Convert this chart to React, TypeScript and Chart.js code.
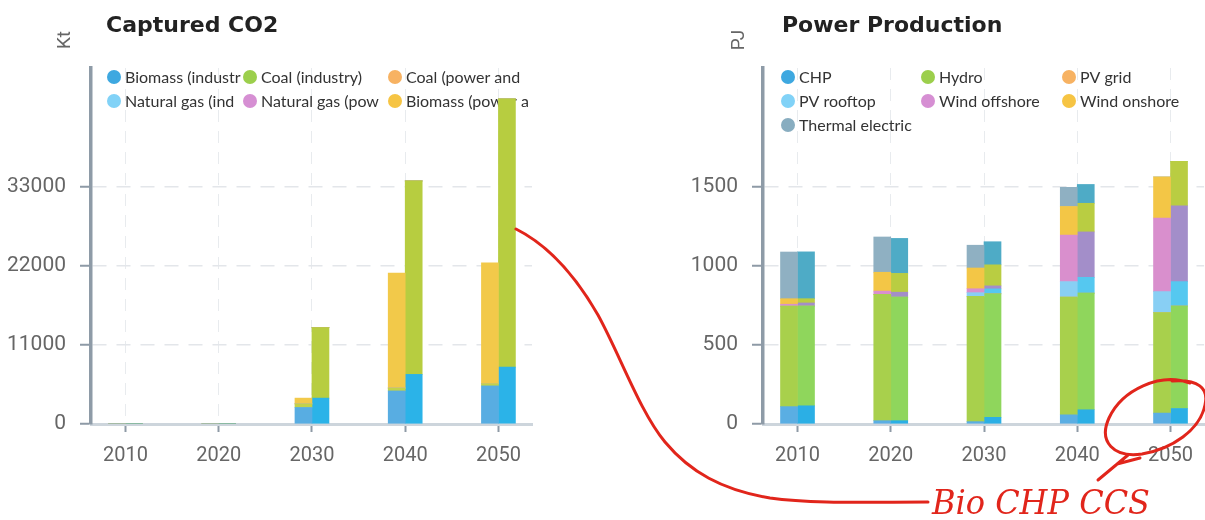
import React, { useEffect, useRef } from 'react';
import { Chart, registerables } from 'chart.js';

Chart.register(...registerables);

// ---------- shared categories ----------
const YEARS = [2010, 2020, 2030, 2040, 2050];
const X_MIN = 2006.3;
const X_MAX = 2053.6;

// ---------- Captured CO2 (Kt) ----------
const CO2_TITLE = 'Captured CO2';
const CO2_UNIT = 'Kt';
const CO2_SERIES = [
  'Biomass (industry)',
  'Coal (industry)',
  'Coal (power and heat)',
  'Natural gas (industry)',
  'Natural gas (power and heat)',
  'Biomass (power and heat)',
];
// scenario A (left bar of each pair)
const CO2_A_BIOMASS_IND = [0, 0, 2300, 4600, 5300];
const CO2_A_COAL_IND = [0, 0, 500, 400, 300];
const CO2_A_COAL_POW = [0, 0, 0, 0, 0];
const CO2_A_GAS_IND = [0, 0, 0, 0, 0];
const CO2_A_GAS_POW = [0, 0, 0, 0, 0];
const CO2_A_BIOMASS_POW = [0, 0, 800, 16000, 16800];
// scenario B (right bar of each pair)
const CO2_B_BIOMASS_IND = [0, 0, 3600, 6900, 7900];
const CO2_B_COAL_IND = [0, 0, 9800, 26900, 37300];
const CO2_B_COAL_POW = [0, 0, 0, 0, 0];
const CO2_B_GAS_IND = [0, 0, 0, 0, 0];
const CO2_B_GAS_POW = [0, 0, 0, 0, 0];
const CO2_B_BIOMASS_POW = [0, 0, 0, 0, 0];
const CO2_Y_TICKS = [0, 11000, 22000, 33000];
const CO2_Y_MAX = 49500;

const CO2_COLORS_A = ['#58ade2', '#c2d24a', '#f6b05c', '#88cff4', '#d98fcd', '#f2c94a'];
const CO2_COLORS_B = ['#2bb3e8', '#b7cd40', '#f2a64f', '#55c8f0', '#a38ec9', '#f3c646'];
const CO2_LEGEND_COLORS = ['#3ea8e0', '#9ccf4c', '#f7b262', '#81d2f7', '#d68fd3', '#f6c443'];

// ---------- Power Production (PJ) ----------
const PWR_TITLE = 'Power Production';
const PWR_UNIT = 'PJ';
const PWR_SERIES = ['CHP', 'Hydro', 'PV grid', 'PV rooftop', 'Wind offshore', 'Wind onshore', 'Thermal electric'];
// scenario A
const PWR_A_CHP = [110, 21, 15, 58, 69];
const PWR_A_HYDRO = [635, 798, 792, 744, 635];
const PWR_A_PV_GRID = [0, 0, 0, 0, 0];
const PWR_A_PV_ROOF = [0, 0, 23, 98, 133];
const PWR_A_WIND_OFF = [12, 21, 25, 294, 465];
const PWR_A_WIND_ON = [35, 119, 131, 181, 260];
const PWR_A_THERMAL = [295, 223, 144, 121, 0];
// scenario B
const PWR_B_CHP = [115, 21, 42, 90, 98];
const PWR_B_HYDRO = [631, 781, 781, 737, 648];
const PWR_B_PV_GRID = [0, 0, 0, 0, 0];
const PWR_B_PV_ROOF = [0, 0, 31, 100, 154];
const PWR_B_WIND_OFF = [19, 31, 19, 287, 479];
const PWR_B_WIND_ON = [27, 119, 133, 181, 281];
const PWR_B_THERMAL = [296, 221, 146, 119, 0];
const PWR_Y_TICKS = [0, 500, 1000, 1500];
const PWR_Y_MAX = 2250;

const PWR_COLORS_A = ['#5aaee3', '#a8d04c', '#f6b05c', '#88cff4', '#d98fcd', '#f3c646', '#8fb0c2'];
const PWR_COLORS_B = ['#2bafe5', '#8fd65c', '#f2a64f', '#55c8f0', '#a38ec9', '#b9cd42', '#4eabc6'];
const PWR_LEGEND_COLORS = ['#3ea8e0', '#9ccf4c', '#f7b262', '#81d2f7', '#d68fd3', '#f6c443', '#88adc0'];

type PanelCfg = {
  title: string;
  unit: string;
  series: string[];
  dataA: number[][];
  dataB: number[][];
  colorsA: string[];
  colorsB: string[];
  legendColors: string[];
  yTicks: number[];
  yMax: number;
  yWidth: number;
  padRight: number;
  titleX: number;
  unitX: number;
  legendCols: number[];
};

const LEGEND_ROWS = [77, 101, 125];
const LEGEND_MAX_CHARS = 16;
const BAR_W = 17;

function buildDatasets(cfg: PanelCfg) {
  const ds: any[] = [];
  cfg.series.forEach((name, i) => {
    ds.push({
      label: name,
      data: cfg.dataA[i],
      backgroundColor: cfg.colorsA[i],
      stack: 'A',
      barThickness: BAR_W,
      borderWidth: 0,
    });
  });
  cfg.series.forEach((name, i) => {
    ds.push({
      label: name + ' (B)',
      data: cfg.dataB[i],
      backgroundColor: cfg.colorsB[i],
      stack: 'B',
      barThickness: BAR_W,
      borderWidth: 0,
    });
  });
  return ds;
}

function Panel({ left, width, cfg }: { left: number; width: number; cfg: PanelCfg }) {
  const ref = useRef<HTMLCanvasElement>(null);
  useEffect(() => {
    if (!ref.current) return;
    const decor = {
      id: 'decor',
      beforeDatasetsDraw(chart: any) {
        const ctx = chart.ctx;
        ctx.save();
        cfg.series.forEach((name, i) => {
          const col = i % 3;
          const row = Math.floor(i / 3);
          const cx = cfg.legendCols[col];
          const cy = LEGEND_ROWS[row];
          ctx.beginPath();
          ctx.fillStyle = cfg.legendColors[i];
          ctx.arc(cx, cy, 7, 0, Math.PI * 2);
          ctx.fill();
          ctx.fillStyle = '#333';
          ctx.font = '16px Lato';
          ctx.textBaseline = 'middle';
          ctx.textAlign = 'left';
          ctx.fillText(name.slice(0, LEGEND_MAX_CHARS), cx + 11, cy + 1);
        });
        ctx.restore();
      },
      afterDraw(chart: any) {
        const ctx = chart.ctx;
        ctx.save();
        ctx.fillStyle = '#222';
        ctx.font = 'bold 22px "DejaVu Sans"';
        ctx.textBaseline = 'middle';
        ctx.textAlign = 'left';
        ctx.fillText(cfg.title, cfg.titleX, 26);
        ctx.translate(cfg.unitX, 40);
        ctx.rotate(-Math.PI / 2);
        ctx.fillStyle = '#666';
        ctx.font = '19px Roboto';
        ctx.textAlign = 'center';
        ctx.fillText(cfg.unit, 0, 0);
        ctx.restore();
      },
    };
    const chart = new Chart(ref.current, {
      type: 'bar',
      data: { labels: YEARS as any, datasets: buildDatasets(cfg) },
      options: {
        responsive: false,
        animation: false,
        devicePixelRatio: 1,
        layout: { padding: { top: 68, right: cfg.padRight, left: 0, bottom: 0 } },
        plugins: { legend: { display: false }, tooltip: { enabled: false }, title: { display: false } },
        scales: {
          x: {
            type: 'linear',
            stacked: true,
            offset: false,
            min: X_MIN,
            max: X_MAX,
            afterBuildTicks: (s: any) => {
              s.ticks = YEARS.map((v) => ({ value: v }));
            },
            afterFit: (s: any) => {
              s.height = 96;
            },
            grid: {
              offset: false,
              color: '#e8ebee',
              lineWidth: 1,
              drawTicks: true,
              tickLength: 8,
              tickColor: '#8e9aa6',
              tickWidth: 2,
              tickBorderDash: [],
            },
            border: { display: true, color: '#cdd5dc', width: 3, dash: [12, 9] },
            ticks: {
              color: '#666',
              font: { family: 'Roboto', size: 20 },
              padding: 12,
              maxRotation: 0,
              autoSkip: false,
              callback: (v: any) => String(v),
            },
          },
          y: {
            type: 'linear',
            stacked: true,
            min: 0,
            max: cfg.yMax,
            afterBuildTicks: (s: any) => {
              s.ticks = cfg.yTicks.map((v) => ({ value: v }));
            },
            afterFit: (s: any) => {
              s.width = cfg.yWidth;
            },
            grid: {
              color: '#e3e6ea',
              lineWidth: 1.5,
              drawTicks: true,
              tickLength: 11,
              tickColor: '#8e9aa6',
              tickWidth: 2,
              tickBorderDash: [],
            },
            border: { display: true, color: '#8e9ba7', width: 3.5, dash: [14, 10] },
            ticks: {
              color: '#666',
              font: { family: 'Roboto', size: 21 },
              padding: 14,
              callback: (v: any) => String(v),
            },
          },
        },
      } as any,
      plugins: [decor],
    });
    return () => chart.destroy();
  }, []);
  return (
    <canvas
      ref={ref}
      width={width}
      height={520}
      style={{ position: 'absolute', left, top: 0, width, height: 520 }}
    />
  );
}

const CO2_CFG: PanelCfg = {
  title: CO2_TITLE,
  unit: CO2_UNIT,
  series: CO2_SERIES,
  dataA: [CO2_A_BIOMASS_IND, CO2_A_COAL_IND, CO2_A_COAL_POW, CO2_A_GAS_IND, CO2_A_GAS_POW, CO2_A_BIOMASS_POW],
  dataB: [CO2_B_BIOMASS_IND, CO2_B_COAL_IND, CO2_B_COAL_POW, CO2_B_GAS_IND, CO2_B_GAS_POW, CO2_B_BIOMASS_POW],
  colorsA: CO2_COLORS_A,
  colorsB: CO2_COLORS_B,
  legendColors: CO2_LEGEND_COLORS,
  yTicks: CO2_Y_TICKS,
  yMax: CO2_Y_MAX,
  yWidth: 91,
  padRight: 28,
  titleX: 106,
  unitX: 65,
  legendCols: [114, 250, 395],
};

const PWR_CFG: PanelCfg = {
  title: PWR_TITLE,
  unit: PWR_UNIT,
  series: PWR_SERIES,
  dataA: [PWR_A_CHP, PWR_A_HYDRO, PWR_A_PV_GRID, PWR_A_PV_ROOF, PWR_A_WIND_OFF, PWR_A_WIND_ON, PWR_A_THERMAL],
  dataB: [PWR_B_CHP, PWR_B_HYDRO, PWR_B_PV_GRID, PWR_B_PV_ROOF, PWR_B_WIND_OFF, PWR_B_WIND_ON, PWR_B_THERMAL],
  colorsA: PWR_COLORS_A,
  colorsB: PWR_COLORS_B,
  legendColors: PWR_LEGEND_COLORS,
  yTicks: PWR_Y_TICKS,
  yMax: PWR_Y_MAX,
  yWidth: 123,
  padRight: 0,
  titleX: 142,
  unitX: 99,
  legendCols: [148, 288, 429],
};

const RED = '#e1251b';

export default function App() {
  return (
    <div
      style={{
        position: 'absolute',
        left: 0,
        top: 0,
        width: 1205,
        height: 520,
        background: '#fff',
        overflow: 'hidden',
      }}
    >
      <Panel left={0} width={560} cfg={CO2_CFG} />
      <Panel left={640} width={565} cfg={PWR_CFG} />
      <svg
        width={1205}
        height={520}
        style={{ position: 'absolute', left: 0, top: 0, pointerEvents: 'none' }}
      >
        <path
          d="M516,229 C548,245 575,275 598,315 C620,355 640,412 665,442 C690,472 722,490 770,498 C812,504 870,502 928,502"
          fill="none"
          stroke={RED}
          strokeWidth={3}
          strokeLinecap="round"
        />
        <path
          d="M1190,383 C1160,372 1122,390 1109,418 C1098,442 1114,458 1142,454 C1172,449 1200,430 1205,405 C1209,388 1198,379 1172,381"
          fill="none"
          stroke={RED}
          strokeWidth={3}
          strokeLinecap="round"
        />
        <path d="M1098,480 L1128,455 M1117,464 L1140,458" fill="none" stroke={RED} strokeWidth={3} strokeLinecap="round" />
        <text
          x={932}
          y={514}
          fontFamily="'DejaVu Serif', serif"
          fontStyle="italic"
          fontSize={34}
          fill={RED}
          textLength={218}
          lengthAdjust="spacingAndGlyphs"
        >
          Bio CHP CCS
        </text>
      </svg>
    </div>
  );
}
